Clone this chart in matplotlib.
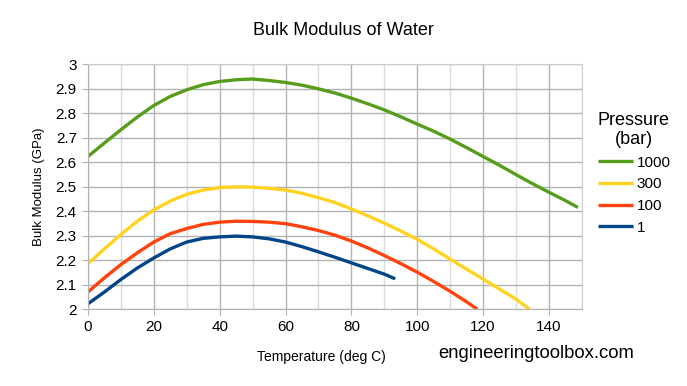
import numpy as np
import matplotlib
matplotlib.use("Agg")
import matplotlib.pyplot as plt
from matplotlib.ticker import MultipleLocator

plt.rcParams['font.family'] = ['Liberation Sans', 'DejaVu Sans']

# temperature (deg C) and bulk modulus (GPa) per pressure
t_1000 = [0, 5, 10, 15, 20, 25, 30, 35, 40, 45, 50, 55, 60, 65, 70, 75, 80, 85, 90, 95,
          100, 105, 110, 115, 120, 125, 130, 135, 140, 145, 148.8]
k_1000 = [2.623, 2.678, 2.732, 2.784, 2.831, 2.868, 2.895, 2.916, 2.929, 2.936, 2.939,
          2.933, 2.925, 2.914, 2.899, 2.882, 2.861, 2.838, 2.813, 2.785, 2.755, 2.726,
          2.694, 2.659, 2.623, 2.587, 2.549, 2.512, 2.477, 2.443, 2.415]

t_300 = [0, 5, 10, 15, 20, 25, 30, 35, 40, 45, 50, 55, 60, 65, 70, 75, 80, 85, 90, 95,
         100, 105, 110, 115, 120, 125, 130, 134.1]
k_300 = [2.186, 2.246, 2.305, 2.359, 2.405, 2.441, 2.469, 2.486, 2.496, 2.499, 2.498,
         2.493, 2.486, 2.473, 2.455, 2.435, 2.409, 2.381, 2.351, 2.319, 2.285, 2.246,
         2.204, 2.163, 2.123, 2.082, 2.041, 2.0]

t_100 = [0, 5, 10, 15, 20, 25, 30, 35, 40, 45, 50, 55, 60, 65, 70, 75, 80, 85, 90, 95,
         100, 105, 110, 115, 118.2]
k_100 = [2.070, 2.128, 2.182, 2.230, 2.274, 2.308, 2.329, 2.346, 2.355, 2.359, 2.358,
         2.355, 2.349, 2.336, 2.321, 2.302, 2.278, 2.250, 2.219, 2.186, 2.151, 2.113,
         2.073, 2.030, 2.0]

t_1 = [0, 5, 10, 15, 20, 25, 30, 35, 40, 45, 50, 55, 60, 65, 70, 75, 80, 85, 90, 93.3]
k_1 = [2.022, 2.070, 2.121, 2.168, 2.209, 2.246, 2.274, 2.289, 2.295, 2.298, 2.295,
       2.287, 2.274, 2.255, 2.234, 2.212, 2.189, 2.166, 2.143, 2.124]

labels = ['1000', '300', '100', '1']
colors = ['#579d1c', '#ffd320', '#ff420e', '#004586']

fig = plt.figure(figsize=(6.87, 3.86), dpi=100)
ax = fig.add_axes([0.128, 0.199, 0.719, 0.635])

for t, k, lab, c in zip([t_1000, t_300, t_100, t_1], [k_1000, k_300, k_100, k_1], labels, colors):
    ax.plot(t, k, color=c, lw=2.4, label=lab, solid_capstyle='butt', solid_joinstyle='round')

ax.set_xlim(0, 150)
ax.set_ylim(2, 3)
ax.xaxis.set_minor_locator(MultipleLocator(10))
ax.set_xticks([0, 20, 40, 60, 80, 100, 120, 140])
ax.set_yticks(np.arange(2, 3.01, 0.1))
ax.set_yticklabels(['2', '2.1', '2.2', '2.3', '2.4', '2.5', '2.6', '2.7', '2.8', '2.9', '3'])
ax.grid(which='major', color='#b3b3b3', lw=1)
ax.grid(which='minor', axis='x', color='#dddddd', lw=1)
ax.set_axisbelow(True)
for s in ['top', 'right']:
    ax.spines[s].set_color('#cccccc')
for s in ['left', 'bottom']:
    ax.spines[s].set_color('#b3b3b3')
ax.tick_params(which='major', length=4, color='#b3b3b3', labelsize=11, pad=4)
ax.tick_params(which='minor', length=0)

ax.set_ylabel('Bulk Modulus (GPa)', fontsize=9.5, labelpad=8)
fig.text(0.468, 0.075, 'Temperature (deg C)', fontsize=10, ha='center', va='center')
fig.text(0.5, 0.92, 'Bulk Modulus of Water', fontsize=13, ha='center', va='center')
fig.text(0.780, 0.085, 'engineeringtoolbox.com', fontsize=13.3, ha='center', va='center')

leg = ax.legend(title='Pressure\n(bar)', loc='center left', bbox_to_anchor=(1.01, 0.555),
                frameon=False, fontsize=11, title_fontsize=13, handlelength=2.3,
                handletextpad=0.25, labelspacing=0.5, borderpad=0.2)
leg._legend_box.align = 'left'
leg.get_title().set_multialignment('center')

fig.savefig('out.png', dpi=100)
